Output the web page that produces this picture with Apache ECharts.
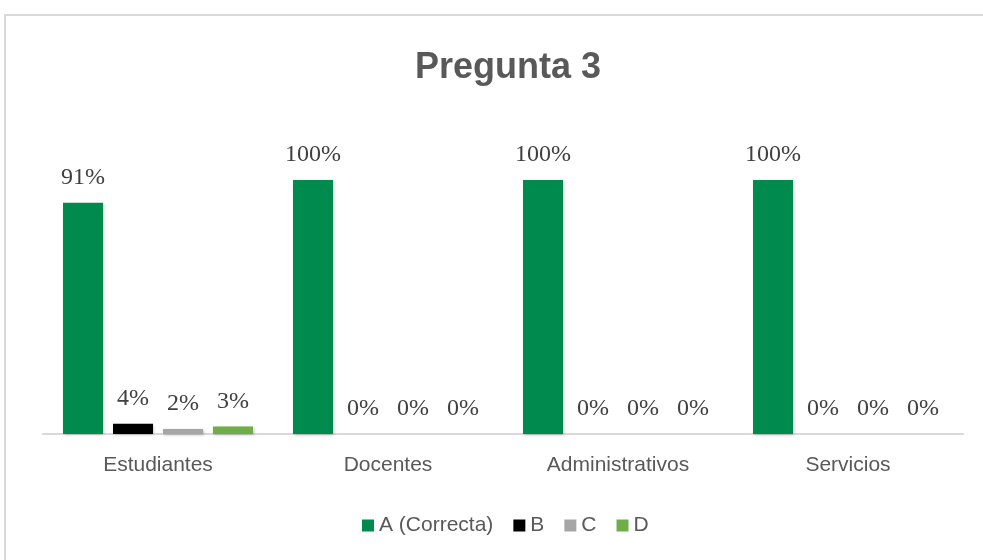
<!DOCTYPE html>
<html>
<head>
<meta charset="utf-8">
<title>Pregunta 3</title>
<script src="https://cdn.jsdelivr.net/npm/echarts@6/dist/echarts.min.js"></script>
<style>
  html, body { margin: 0; padding: 0; background: #fff; }
  #chart { width: 983px; height: 560px; }
</style>
</head>
<body>
<div id="chart"></div>
<script>
const categories = ['Estudiantes', 'Docentes', 'Administrativos', 'Servicios']
const seriesNames = ['A (Correcta)', 'B', 'C', 'D']
const valuesA = [91, 100, 100, 100]
const valuesB = [4, 0, 0, 0]
const valuesC = [2, 0, 0, 0]
const valuesD = [3, 0, 0, 0]
const colors = ['#008A4E', '#000000', '#A6A6A6', '#70AD47']

const chart = echarts.init(document.getElementById('chart'))

const makeSeries = (name, data, color) => ({
  name,
  type: 'bar',
  data,
  barGap: '25%',
  barCategoryGap: '17.4%',
  itemStyle: {
    color,
    shadowColor: 'rgba(0,0,0,0.25)',
    shadowBlur: 3,
    shadowOffsetX: 1,
    shadowOffsetY: 1
  },
  label: {
    show: true,
    position: 'top',
    distance: 13,
    formatter: '{c}%',
    fontFamily: '"Liberation Serif", "Times New Roman", serif',
    fontSize: 24,
    color: '#404040'
  }
})

const option = {
  backgroundColor: '#fff',
  animation: false,
  title: {
    text: 'Pregunta 3',
    left: 503,
    textAlign: 'center',
    top: 45,
    textStyle: {
      fontFamily: '"Liberation Sans", Arial, sans-serif',
      fontWeight: 'bold',
      fontSize: 36,
      color: '#595959'
    }
  },
  legend: {
    data: seriesNames,
    left: 357,
    top: 510,
    itemWidth: 12,
    itemHeight: 12,
    itemGap: 20,
    icon: 'rect',
    textStyle: {
      fontFamily: '"Liberation Sans", Arial, sans-serif',
      fontSize: 21,
      color: '#595959'
    }
  },
  grid: {
    left: 43,
    right: 20,
    top: 180,
    bottom: 126
  },
  xAxis: {
    type: 'category',
    data: categories,
    axisLine: { lineStyle: { color: '#D9D9D9', width: 2 } },
    axisTick: { show: false },
    axisLabel: {
      margin: 21,
      fontFamily: '"Liberation Sans", Arial, sans-serif',
      fontSize: 21,
      color: '#595959'
    }
  },
  yAxis: {
    type: 'value',
    min: 0,
    max: 100,
    show: false
  },
  graphic: [
    {
      type: 'rect',
      shape: { x: 5, y: 15, width: 1200, height: 800 },
      style: { fill: 'none', stroke: '#D9D9D9', lineWidth: 2 },
      silent: true
    }
  ],
  series: [
    makeSeries(seriesNames[0], valuesA, colors[0]),
    makeSeries(seriesNames[1], valuesB, colors[1]),
    makeSeries(seriesNames[2], valuesC, colors[2]),
    makeSeries(seriesNames[3], valuesD, colors[3])
  ]
}

chart.setOption(option)
</script>
</body>
</html>
